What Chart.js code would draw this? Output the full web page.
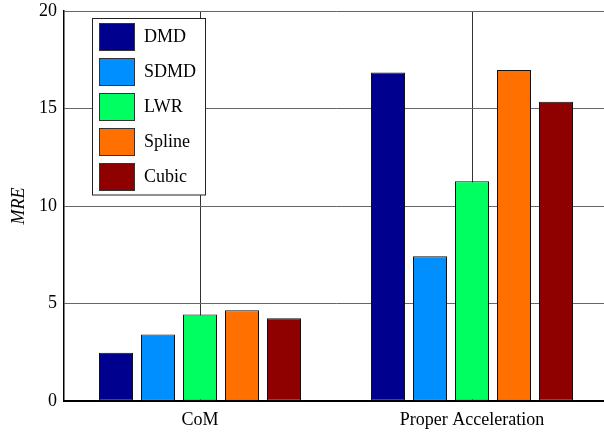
<!DOCTYPE html>
<html>
<head>
<meta charset="utf-8">
<script src="https://cdn.jsdelivr.net/npm/chart.js@4"></script>
<style>
  html, body { margin: 0; padding: 0; background: #fff; overflow: hidden; }
  #wrap { width: 604px; height: 434px; overflow: hidden; }
</style>
</head>
<body>
<div id="wrap"><canvas id="myChart" width="608" height="434"></canvas></div>
<script>
var categories = ['CoM', 'Proper Acceleration'];
var seriesNames = ['DMD', 'SDMD', 'LWR', 'Spline', 'Cubic'];
var dmd    = [2.48, 16.85];
var sdmd   = [3.41, 7.42];
var lwr    = [4.43, 11.27];
var spline = [4.66, 16.97];
var cubic  = [4.25, 15.35];
var yTicks = [0, 5, 10, 15, 20];
var barColors = ['#00008f', '#008fff', '#00ff60', '#ff7000', '#8f0000'];

var allValues = [dmd, sdmd, lwr, spline, cubic];
var serif = "'Liberation Serif', 'DejaVu Serif', serif";

// legend drawn inside the plot, on top of the grid, MATLAB style
var boxLegend = {
  id: 'boxLegend',
  afterDraw: function (chart) {
    var ctx = chart.ctx;
    ctx.save();
    ctx.fillStyle = '#fff';
    ctx.fillRect(92.5, 18.5, 113, 176.5);
    ctx.strokeStyle = '#222';
    ctx.lineWidth = 1;
    ctx.strokeRect(92.5, 18.5, 113, 176.5);
    ctx.font = '18px ' + serif;
    ctx.textBaseline = 'middle';
    chart.data.datasets.forEach(function (ds, i) {
      var y = 23.5 + i * 35;
      ctx.fillStyle = ds.backgroundColor;
      ctx.fillRect(99.5, y, 35, 27);
      ctx.strokeStyle = '#333';
      ctx.strokeRect(99.5, y, 35, 27);
      ctx.fillStyle = '#000';
      ctx.fillText(ds.label, 144, y + 14);
    });
    ctx.restore();
  }
};

new Chart('myChart', {
  type: 'bar',
  data: {
    labels: categories,
    datasets: seriesNames.map(function (name, i) {
      return {
        label: name,
        data: allValues[i],
        backgroundColor: barColors[i],
        borderColor: '#111',
        borderWidth: 1,
        borderSkipped: false,
        barPercentage: 0.81,
        categoryPercentage: 0.772
      };
    })
  },
  options: {
    responsive: false,
    animation: false,
    layout: { padding: { top: 11, right: 0, left: 0, bottom: 0 } },
    plugins: {
      legend: { display: false },
      tooltip: { enabled: false }
    },
    scales: {
      x: {
        grid: { offset: false, color: '#333', lineWidth: 1, drawTicks: false },
        border: { color: '#000', width: 2 },
        ticks: { color: '#000', font: { family: serif, size: 18 }, padding: 8 },
        afterFit: function (s) {
          s.height = 33;
          s.paddingLeft = 0;
          s.paddingRight = 0;
        }
      },
      y: {
        min: 0,
        max: 20,
        afterBuildTicks: function (s) {
          s.ticks = yTicks.map(function (v) { return { value: v }; });
        },
        grid: { color: '#666', lineWidth: 1, drawTicks: false },
        border: { color: '#000', width: 1.5 },
        ticks: { color: '#000', font: { family: serif, size: 18 }, padding: 7 },
        title: {
          display: true,
          text: 'MRE',
          color: '#000',
          font: { family: serif, size: 18, style: 'italic' },
          padding: { top: 8, bottom: 0 }
        },
        afterFit: function (s) {
          s.width = 64;
          s.paddingTop = 0;
          s.paddingBottom = 0;
        }
      }
    }
  },
  plugins: [boxLegend]
});
</script>
</body>
</html>
